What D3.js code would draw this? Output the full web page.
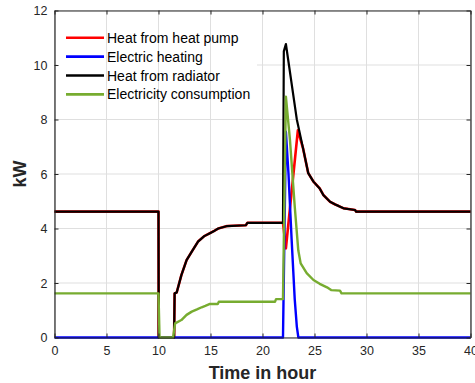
<!DOCTYPE html>
<html><head><meta charset="utf-8">
<script src="https://cdn.jsdelivr.net/npm/d3@7"></script>
<style>body{margin:0;background:#fff}svg{display:block}</style>
</head><body>
<script>
// ---- data ----
const seriesNames = ["Heat from heat pump","Electric heating","Heat from radiator","Electricity consumption"];
const seriesColors = ["#ff0000","#0000ff","#000000","#77ac30"];
const xTicks = [0,5,10,15,20,25,30,35,40];
const yTicks = [0,2,4,6,8,10,12];

const radiatorT = [0,10.0,10.02,11.5,11.55,11.75,12.2,12.7,13.2,13.8,14.4,14.9,15.4,15.75,16.6,18.4,18.55,21.97,22.05,22.25,23.3,23.9,24.4,24.9,25.5,25.85,26.5,27.0,27.3,27.8,28.9,29.0,40];
const radiatorV = [4.62,4.62,0,0,1.62,1.65,2.29,2.84,3.15,3.52,3.72,3.82,3.92,4.0,4.09,4.12,4.21,4.21,10.5,10.77,8.0,6.94,6.03,5.72,5.47,5.23,4.98,4.88,4.83,4.74,4.68,4.62,4.62];

const heatPumpT = [0,10.0,10.02,11.5,11.55,11.75,12.2,12.7,13.2,13.8,14.4,14.9,15.4,15.75,16.6,18.4,18.55,21.97,22.25,23.4,23.9,24.4,24.9,25.5,25.85,26.5,27.0,27.3,27.8,28.9,29.0,40];
const heatPumpV = [4.62,4.62,0,0,1.62,1.65,2.29,2.84,3.15,3.52,3.72,3.82,3.92,4.0,4.09,4.12,4.21,4.21,3.27,7.6,6.94,6.03,5.72,5.47,5.23,4.98,4.88,4.83,4.74,4.68,4.62,4.62];

const electricT = [0,21.97,22.25,22.5,22.8,23.1,23.3,23.45,40];
const electricV = [0,0,7.55,6.0,3.6,1.4,0.4,0,0];

const consumptionT = [0,10.0,10.1,11.4,11.6,12.2,12.7,13.2,13.7,14.15,14.5,14.95,15.7,15.8,21.2,21.3,21.97,22.25,22.64,23.1,23.44,23.67,24.25,24.9,25.5,26.2,26.6,27.45,27.6,40];
const consumptionV = [1.62,1.62,0,0,0.52,0.64,0.83,0.95,1.03,1.11,1.16,1.23,1.23,1.31,1.31,1.41,1.41,8.84,7.25,4.8,3.2,2.72,2.36,2.11,1.97,1.84,1.74,1.72,1.62,1.62];

// ---- chart ----
const W = 475, H = 383;
const L = 54.5, R = 470.5, T = 10.5, B = 337.5;
const x = d3.scaleLinear().domain([0,40]).range([L,R]);
const y = d3.scaleLinear().domain([0,12]).range([B,T]);
const axisColor = "#262626";
const font = "'Liberation Sans', Arial, Helvetica, sans-serif";

const svg = d3.select("body").append("svg").attr("width",W).attr("height",H);

// horizontal grid
svg.append("g").selectAll("line").data(yTicks).join("line")
  .attr("x1",L).attr("x2",R).attr("y1",d=>y(d)).attr("y2",d=>y(d))
  .attr("stroke","#dfdfdf").attr("stroke-width",1);

// legend background (covers horizontal grid only)
const lgX = 57, lgY = 25, lgW = 200, lgH = 80;
svg.append("rect").attr("x",lgX).attr("y",lgY).attr("width",lgW).attr("height",lgH).attr("fill","#fff");

// vertical grid
svg.append("g").selectAll("line").data(xTicks).join("line")
  .attr("x1",d=>x(d)).attr("x2",d=>x(d)).attr("y1",T).attr("y2",B)
  .attr("stroke","#dfdfdf").attr("stroke-width",1);

// series
const series = [
  {t:heatPumpT, v:heatPumpV, c:seriesColors[0], w:2.6},
  {t:electricT, v:electricV, c:seriesColors[1], w:2.4},
  {t:radiatorT, v:radiatorV, c:seriesColors[2], w:2.2},
  {t:consumptionT, v:consumptionV, c:seriesColors[3], w:2.4}
];
const line = d3.line().x(d=>x(d[0])).y(d=>y(d[1]));
series.forEach(s=>{
  const pts = s.t.map((t,i)=>[t,s.v[i]]);
  svg.append("path").attr("d",line(pts)).attr("fill","none")
    .attr("stroke",s.c).attr("stroke-width",s.w).attr("stroke-linejoin","round");
});

// axes
const tickLen = 4;
const gx = svg.append("g").attr("transform",`translate(0,${B})`)
  .call(d3.axisBottom(x).tickValues(xTicks).tickSize(-tickLen).tickPadding(9).tickSizeOuter(0));
const gy = svg.append("g").attr("transform",`translate(${L},0)`)
  .call(d3.axisLeft(y).tickValues(yTicks).tickSize(-tickLen).tickPadding(7).tickSizeOuter(0));
const gxt = svg.append("g").attr("transform",`translate(0,${T})`)
  .call(d3.axisTop(x).tickValues(xTicks).tickSize(-tickLen).tickFormat("").tickSizeOuter(0));
const gyr = svg.append("g").attr("transform",`translate(${R},0)`)
  .call(d3.axisRight(y).tickValues(yTicks).tickSize(-tickLen).tickFormat("").tickSizeOuter(0));
[gx,gy,gxt,gyr].forEach(g=>{
  g.selectAll(".domain").attr("stroke",axisColor).attr("stroke-width",1.2);
  g.selectAll(".tick line").attr("stroke",axisColor);
  g.selectAll("text").attr("fill",axisColor).style("font-family",font).style("font-size","12.5px");
});

// axis titles
svg.append("text").attr("x",(L+R)/2).attr("y",379).attr("text-anchor","middle")
  .style("font-family",font).style("font-size","18px").style("font-weight","bold")
  .attr("fill",axisColor).text("Time in hour");
svg.append("text").attr("transform",`translate(26,${(T+B)/2}) rotate(-90)`).attr("text-anchor","middle")
  .style("font-family",font).style("font-size","18px").style("font-weight","bold")
  .attr("fill",axisColor).text("kW");

// legend
const lg = svg.append("g");
seriesNames.forEach((n,i)=>{
  const yy = 37.7 + i*18.9;
  lg.append("line").attr("x1",66).attr("x2",104).attr("y1",yy).attr("y2",yy)
    .attr("stroke",seriesColors[i]).attr("stroke-width",2.6);
  lg.append("text").attr("x",107).attr("y",yy+5).style("font-family",font)
    .style("font-size","14px").attr("fill","#000").text(n);
});
</script>
</body></html>
